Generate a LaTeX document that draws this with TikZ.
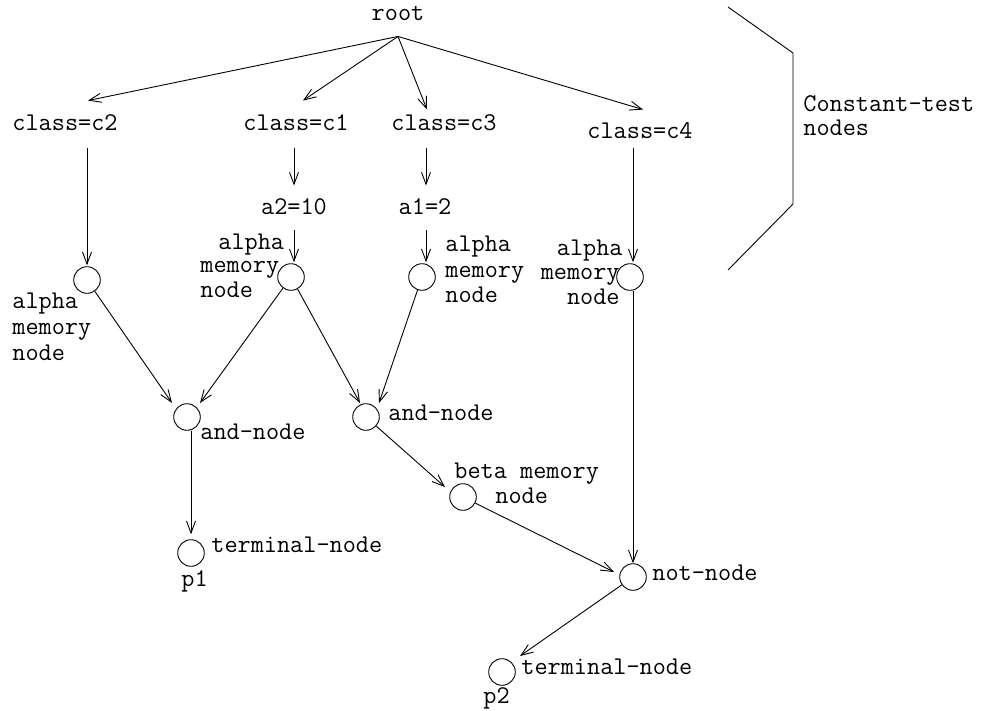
\documentclass[tikz,border=0pt]{standalone}
\usepackage{fontspec}
\usetikzlibrary{arrows.meta,calc}
\begin{document}
\begin{tikzpicture}[x=1pt,y=-1pt,
  every path/.style={line width=0.9pt},
  >={Straight Barb[length=12pt,width=9pt,line width=0.9pt]},
  tx/.style={font=\ttfamily\fontsize{25.5}{28}\selectfont,inner sep=0pt,text height=14pt,text depth=4pt},
  txw/.style={tx,anchor=west},
  txe/.style={tx,anchor=east},
  rn/.style={circle,draw,minimum size=26.6pt,inner sep=0pt,line width=0.9pt}]
\useasboundingbox (0,0) rectangle (984,710);

% text nodes
\node[tx] (root) at (398,15) {root};
\node[tx] (t1) at (65,125) {class=c2};
\node[tx] (t2) at (296,125) {class=c1};
\node[tx] (t3) at (444,125) {class=c3};
\node[tx] (t4) at (640,133) {class=c4};
\node[tx] (a2t) at (294,209) {a2=10};
\node[tx] (a1t) at (425,209) {a1=2};

% circle nodes
\node[rn] (m2) at (87,280) {};
\node[rn] (m1) at (291,277) {};
\node[rn] (m3) at (422,277) {};
\node[rn] (m4) at (630,277) {};
\node[rn] (and1) at (187,417) {};
\node[rn] (and2) at (366,417) {};
\node[rn] (beta) at (463,497) {};
\node[rn] (term1) at (191,553) {};
\node[rn] (not) at (633,577) {};
\node[rn] (term2) at (502,672) {};

% labels
\node[txw] (l2a) at (12,303) {alpha};
\node[txw] (l2b) at (12,329) {memory};
\node[txw] (l2c) at (12,355) {node};
\node[txw] (l1a) at (218,244) {alpha};
\node[txw] (l1b) at (200,267) {memory};
\node[txw] (l1c) at (200,292) {node};
\node[txw] (l3a) at (445,246) {alpha};
\node[txw] (l3b) at (445,272) {memory};
\node[txw] (l3c) at (445,297) {node};
\node[txe] (l4a) at (623,250) {alpha};
\node[txe] (l4b) at (620,274) {memory};
\node[txe] (l4c) at (620,299) {node};
\node[txw] (la1) at (200,434) {and-node};
\node[txw] (la2) at (388,415) {and-node};
\node[txw] (lb1) at (454,473) {beta memory};
\node[txw] (lb2) at (495,498) {node};
\node[txw] (lt1) at (211,547) {terminal-node};
\node[txw] (lp1) at (181,581) {p1};
\node[txw] (lnot) at (652,575) {not-node};
\node[txw] (lt2) at (521,669) {terminal-node};
\node[txw] (lp2) at (483,698) {p2};
\node[txw] (ct1) at (803,106) {Constant-test};
\node[txw] (ct2) at (803,130) {nodes};

% bracket
\draw (728,7) -- (793,53) -- (793,204) -- (728,270);

% connectors
\coordinate (r0) at ([yshift=-12pt]root.south);
\draw[->] (r0) -- ($(t1.north -| m2)+(1,-15)$);
\draw[->] (r0) -- ($(t2.north)+(7,-15)$);
\draw[->] (r0) -- ($(t3.north)+(-17,-6)$);
\draw[->] (r0) -- ($(t4.north)+(3,-14)$);

\draw[->] ($(t1.south -| m2)+(0,14)$) -- ($(m2.north)+(0,-1)$);
\draw[->] ($(t2.south -| a2t)+(0,14)$) -- ($(a2t.north)+(0,-14)$);
\draw[->] ($(t3.south -| a1t)+(1,14)$) -- ($(a1t.north)+(1,-14)$);
\draw[->] ($(a2t.south)+(0,12)$) -- ($(a2t |- m1.north)+(0,-1)$);
\draw[->] ($(a1t.south)+(1,12)$) -- ($(a1t |- m3.north)+(1,-1)$);
\draw[->] ($(m4 |- t4.south)+(3,6)$) -- ($(m4.north)+(3,-1)$);

\draw[->] (m2) -- ($(and1)+(-15,-14)$);
\draw[->] (m1) -- ($(and1)+(13,-14)$);
\draw[->] (m1) -- ($(and2)+(-6,-14)$);
\draw[->] (m3) -- ($(and2)+(13,-14)$);
\draw[->] (and1.south -| term1) -- ($(term1.north)+(0,-5)$);
\draw[->] (and2) -- ($(beta)+(-18,-10)$);
\draw[->] (beta) -- ($(not)+(-19,-5)$);
\draw[->] ($(m4.south)+(3,0)$) -- (not.north);
\draw[->] (not) -- ($(term2)+(18,-16)$);
\end{tikzpicture}
\end{document}
